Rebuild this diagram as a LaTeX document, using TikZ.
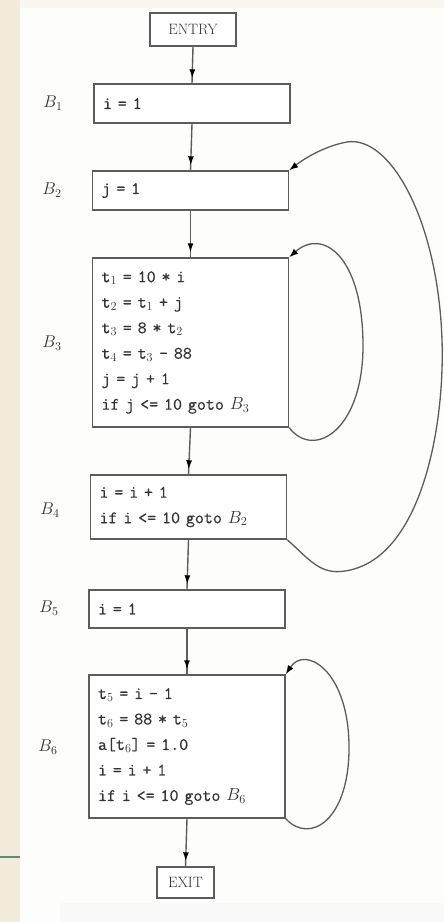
\RequirePackage{fix-cm}
\documentclass[tikz,border=0pt]{standalone}
\usepackage{fontspec}
\setmonofont{Latin Modern Mono}[FakeBold=0.5]
\usetikzlibrary{arrows.meta,decorations.markings}
\definecolor{ink}{HTML}{5C5C5C}
\definecolor{txt}{HTML}{333333}
\definecolor{beige}{HTML}{F3ECDD}
\definecolor{paper}{HTML}{FDFDFC}
\definecolor{rule}{HTML}{5E8C74}
\begin{document}
\begin{tikzpicture}[x=1pt,y=-1pt,
  blk/.style={draw=ink, line width=1.4pt, fill=white, text=txt, align=left,
    text width=178pt, inner xsep=9pt, inner ysep=0pt,
    font=\fontsize{17.5}{25.5}\selectfont\ttfamily},
  term/.style={draw=ink, line width=1.4pt, fill=white, text=txt, inner sep=0pt,
    font=\fontsize{15}{17}\selectfont},
  lbl/.style={text=txt, inner sep=0pt, font=\fontsize{17}{20}\selectfont},
  flow/.style={draw=ink, line width=1.4pt,
    decoration={markings, mark=at position -5pt with {\arrow[black]{Latex[length=9pt,width=6pt]}}},
    postaction={decorate}},
  back/.style={draw=ink, line width=1.3pt, -{Latex[length=9pt,width=6.5pt,color=black]}}]
\useasboundingbox (0,0) rectangle (444,922);
\fill[paper] (0,0) rectangle (444,922);
\fill[beige] (0,0) rectangle (20,922);
\fill[beige!45] (20,0) rectangle (444,8);
\fill[gray!5] (60,903) rectangle (444,922);
\draw[rule, line width=2pt] (0,857) -- (20,857);

\node[term, minimum width=86pt, minimum height=33pt] (entry) at (193,29.5) {ENTRY};
\node[blk, minimum height=39pt] (b1) at (192,103.5) {i = 1};
\node[blk, minimum height=39pt] (b2) at (190.5,190.5) {j = 1};
\node[blk, minimum height=169pt] (b3) at (190.5,342.5) {t$_1$ = 10 * i\\
t$_2$ = t$_1$ + j\\
t$_3$ = 8 * t$_2$\\
t$_4$ = t$_3$ - 88\\
j = j + 1\\
if j <= 10 goto $B_3$};
\node[blk, minimum height=64pt] (b4) at (188.5,507) {i = i + 1\\
if i <= 10 goto $B_2$};
\node[blk, minimum height=38pt] (b5) at (187,609) {i = 1};
\node[blk, minimum height=143pt] (b6) at (187,746.5) {t$_5$ = i - 1\\
t$_6$ = 88 * t$_5$\\
a[t$_6$] = 1.0\\
i = i + 1\\
if i <= 10 goto $B_6$};
\node[term, minimum width=57pt, minimum height=31pt] (exit) at (185.5,882.5) {EXIT};

\node[lbl] (l1) at (53,103) {$B_1$};
\node[lbl] (l2) at (52,190) {$B_2$};
\node[lbl] (l3) at (52,343) {$B_3$};
\node[lbl] (l4) at (50,510) {$B_4$};
\node[lbl] (l5) at (49,608) {$B_5$};
\node[lbl] (l6) at (48,747) {$B_6$};

\path[flow] (entry.south) -- (b1.north);
\path[flow] (b1.south) -- (b2.north);
\path[flow] (b2.south) -- (b3.north);
\path[flow] (b3.south) -- (b4.north);
\path[flow] (b4.south) -- (b5.north);
\path[flow] (b5.south) -- (b6.north);
\path[flow] (b6.south) -- (exit.north);

\coordinate (r3) at (363,343);
\draw[back] (b3.south east) .. controls (314,460) and (364,430) .. (r3)
  .. controls (362,255) and (322,228) .. (b3.north east);

\coordinate (q1) at (345,571);
\coordinate (q2) at (442,340);
\coordinate (q3) at (347,142);
\draw[back] (b4.south east) .. controls (310,560) and (320,575) .. (q1)
  .. controls (420,560) and (445,430) .. (q2)
  .. controls (438,220) and (390,135) .. (q3)
  .. controls (325,146) and (305,158) .. (b2.north east);

\coordinate (r6) at (349,745);
\draw[back] (b6.south east) .. controls (310,845) and (350,820) .. (r6)
  .. controls (348,670) and (305,645) .. (b6.north east);
\end{tikzpicture}
\end{document}
